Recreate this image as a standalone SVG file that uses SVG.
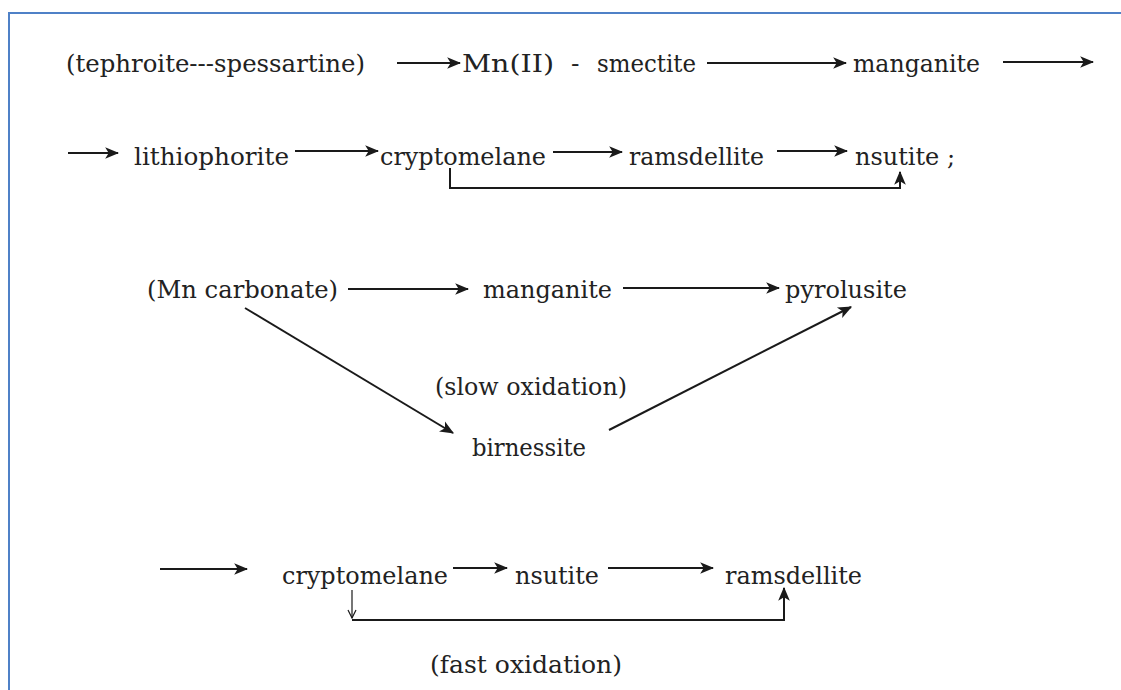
<svg xmlns="http://www.w3.org/2000/svg" width="1121" height="690" viewBox="0 0 1121 690">
<defs>
<style>
text{font-family:"DejaVu Serif","Liberation Serif",serif;font-size:25px;fill:#222222}
.c{fill:none;stroke:#1a1a1a;stroke-width:2}
.t{fill:none;stroke:#1a1a1a;stroke-width:1.2}
.b{fill:none;stroke:#4f81c7;stroke-width:2}
</style>
<marker id="ah" markerUnits="userSpaceOnUse" markerWidth="14" markerHeight="14" viewBox="0 0 12 10" refX="11" refY="5" orient="auto">
<path d="M0,0 L12,5 L0,10 L3,5 z" fill="#1a1a1a"/>
</marker>
<marker id="av" markerUnits="userSpaceOnUse" markerWidth="10" markerHeight="10" viewBox="0 0 10 10" refX="9" refY="5" orient="auto">
<path d="M1,1 L9,5 L1,9" fill="none" stroke="#1a1a1a" stroke-width="1.2"/>
</marker>
</defs>
<rect width="1121" height="690" fill="#ffffff"/>
<path class="b" d="M9,690 V13 H1121"/>

<g id="connectors">
<line class="c" x1="397" y1="63" x2="460" y2="63" marker-end="url(#ah)"/>
<line class="c" x1="707" y1="63" x2="846" y2="63" marker-end="url(#ah)"/>
<line class="c" x1="1003" y1="62" x2="1093" y2="62" marker-end="url(#ah)"/>
<line class="c" x1="68" y1="153" x2="118" y2="153" marker-end="url(#ah)"/>
<line class="c" x1="295" y1="151" x2="378" y2="151" marker-end="url(#ah)"/>
<line class="c" x1="553" y1="152" x2="622" y2="152" marker-end="url(#ah)"/>
<line class="c" x1="777" y1="151" x2="847" y2="151" marker-end="url(#ah)"/>
<path class="c" d="M450,168 V188 H900 V172" marker-end="url(#ah)"/>
<line class="c" x1="348" y1="289" x2="468" y2="289" marker-end="url(#ah)"/>
<line class="c" x1="623" y1="288" x2="779" y2="288" marker-end="url(#ah)"/>
<line class="c" x1="245" y1="308" x2="453" y2="433" marker-end="url(#ah)"/>
<line class="c" x1="609" y1="430" x2="851" y2="307" marker-end="url(#ah)"/>
<line class="c" x1="160" y1="569" x2="247" y2="569" marker-end="url(#ah)"/>
<line class="c" x1="453" y1="568" x2="507" y2="568" marker-end="url(#ah)"/>
<line class="c" x1="608" y1="568" x2="713" y2="568" marker-end="url(#ah)"/>
<line class="t" x1="352" y1="590" x2="352" y2="618" marker-end="url(#av)"/>
<path class="c" d="M352,620 H784 V588" marker-end="url(#ah)"/>
</g>

<g id="n-tephroite"><text x="66" y="72" textLength="299" lengthAdjust="spacingAndGlyphs">(tephroite---spessartine)</text></g>
<g id="n-mn2"><text x="462" y="72" textLength="92" lengthAdjust="spacingAndGlyphs">Mn(II)</text><text x="571" y="72">-</text></g>
<g id="n-smectite"><text x="597" y="72" textLength="99" lengthAdjust="spacingAndGlyphs">smectite</text></g>
<g id="n-manganite1"><text x="853" y="72" textLength="127" lengthAdjust="spacingAndGlyphs">manganite</text></g>
<g id="n-lithiophorite"><text x="134" y="165" textLength="155" lengthAdjust="spacingAndGlyphs">lithiophorite</text></g>
<g id="n-cryptomelane1"><text x="380" y="165" textLength="166" lengthAdjust="spacingAndGlyphs">cryptomelane</text></g>
<g id="n-ramsdellite1"><text x="629" y="165" textLength="135" lengthAdjust="spacingAndGlyphs">ramsdellite</text></g>
<g id="n-nsutite1"><text x="855" y="165" textLength="100" lengthAdjust="spacingAndGlyphs">nsutite ;</text></g>
<g id="n-mncarbonate"><text x="147" y="298" textLength="191" lengthAdjust="spacingAndGlyphs">(Mn carbonate)</text></g>
<g id="n-manganite2"><text x="483" y="298" textLength="129" lengthAdjust="spacingAndGlyphs">manganite</text></g>
<g id="n-pyrolusite"><text x="785" y="298" textLength="122" lengthAdjust="spacingAndGlyphs">pyrolusite</text></g>
<g id="l-slow"><text x="435" y="395" textLength="192" lengthAdjust="spacingAndGlyphs">(slow oxidation)</text></g>
<g id="n-birnessite"><text x="472" y="456" textLength="114" lengthAdjust="spacingAndGlyphs">birnessite</text></g>
<g id="n-cryptomelane2"><text x="282" y="584" textLength="166" lengthAdjust="spacingAndGlyphs">cryptomelane</text></g>
<g id="n-nsutite2"><text x="515" y="584" textLength="84" lengthAdjust="spacingAndGlyphs">nsutite</text></g>
<g id="n-ramsdellite2"><text x="725" y="584" textLength="137" lengthAdjust="spacingAndGlyphs">ramsdellite</text></g>
<g id="l-fast"><text x="430" y="673" textLength="192" lengthAdjust="spacingAndGlyphs">(fast oxidation)</text></g>
</svg>
